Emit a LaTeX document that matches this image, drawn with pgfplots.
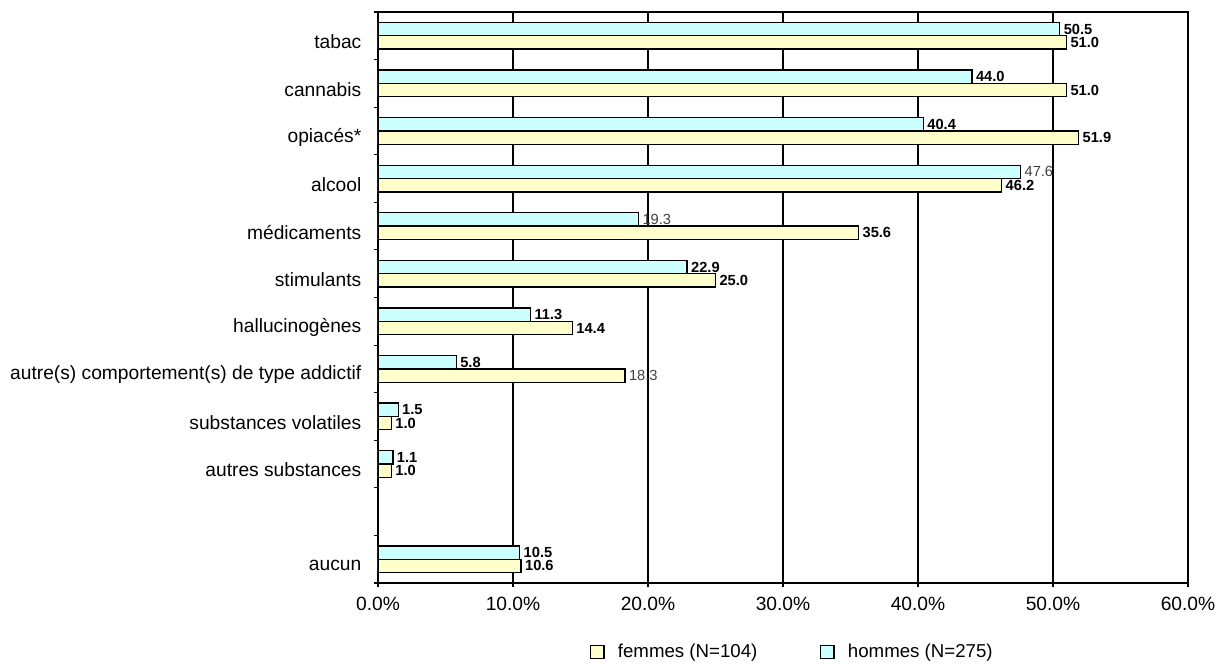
\documentclass[border=0pt]{standalone}
\usepackage{pgfplots}
\pgfplotsset{compat=1.18}
\usepackage{fontspec}
\setmainfont{Liberation Sans}
\definecolor{hommes}{HTML}{CCFFFF}
\definecolor{femmes}{HTML}{FFFFCC}
\definecolor{lbl}{HTML}{404040}

\begin{document}
\begin{tikzpicture}
\begin{axis}[
  name=ax,
  scale only axis,
  width=607.5pt, height=428.25pt,
  xbar,
  y dir=reverse,
  xmin=0, xmax=60,
  ymin=-0.5, ymax=11.5,
  xtick={0,10,...,60},
  xticklabels={0.0\%,10.0\%,20.0\%,30.0\%,40.0\%,50.0\%,60.0\%},
  xmajorgrids,
  grid style={black, line width=1pt},
  ytick={0,...,11},
  yticklabels={tabac, cannabis, opiacés*, alcool, médicaments, stimulants,
    hallucinogènes, autre(s) comportement(s) de type addictif,
    substances volatiles, autres substances, {}, aucun},
  minor ytick={-0.5,0.5,...,11.5},
  major y tick style={draw=none},
  xtick pos=bottom, ytick pos=left,
  tick align=outside,
  major tick length=3pt, minor tick length=3pt,
  tick style={black, line width=0.8pt},
  axis line style={line width=1pt},
  tick label style={font=\fontsize{14.4}{16}\selectfont},
  yticklabel style={xshift=-6pt, yshift=-4.5pt},
  xticklabel style={yshift=-4pt},
  bar width=0.28,
  point meta=explicit symbolic,
  nodes near coords,
  every node near coord/.append style={font=\fontsize{11}{12}\selectfont, anchor=west,
    inner xsep=2.5pt, inner ysep=0pt},
  legend style={draw=none, at={(0.512,-0.121)}, anchor=center,
    legend columns=2, font=\fontsize{14}{16}\selectfont,
    /tikz/every odd column/.append style={column sep=8pt},
    /tikz/every even column/.append style={column sep=45pt}},
  legend image code/.code={\draw[#1, line width=0.9pt] (0pt,-5pt) rectangle (10pt,5pt);},
]
\addplot[fill=femmes, draw=black, line width=1pt, bar shift=0.14] coordinates {
  (51.0,0) [\textbf{51.0}]
  (51.0,1) [\textbf{51.0}]
  (51.9,2) [\textbf{51.9}]
  (46.2,3) [\textbf{46.2}]
  (35.6,4) [\textbf{35.6}]
  (25.0,5) [\textbf{25.0}]
  (14.4,6) [\textbf{14.4}]
  (18.3,7) [\color{lbl}18.3]
  (1.0,8) [\textbf{1.0}]
  (1.0,9) [\textbf{1.0}]
  (10.6,11) [\textbf{10.6}]
};
\addlegendentry{femmes (N=104)}
\addplot[fill=hommes, draw=black, line width=1pt, bar shift=-0.14] coordinates {
  (50.5,0) [\textbf{50.5}]
  (44.0,1) [\textbf{44.0}]
  (40.4,2) [\textbf{40.4}]
  (47.6,3) [\color{lbl}47.6]
  (19.3,4) [\color{lbl}19.3]
  (22.9,5) [\textbf{22.9}]
  (11.3,6) [\textbf{11.3}]
  (5.8,7) [\textbf{5.8}]
  (1.5,8) [\textbf{1.5}]
  (1.1,9) [\textbf{1.1}]
  (10.5,11) [\textbf{10.5}]
};
\addlegendentry{hommes (N=275)}
\end{axis}
\pgfresetboundingbox
\path[use as bounding box] ([xshift=-283.5pt, yshift=-60.75pt]ax.south west)
  rectangle ([xshift=23.25pt, yshift=9pt]ax.north east);
\end{tikzpicture}
\end{document}
